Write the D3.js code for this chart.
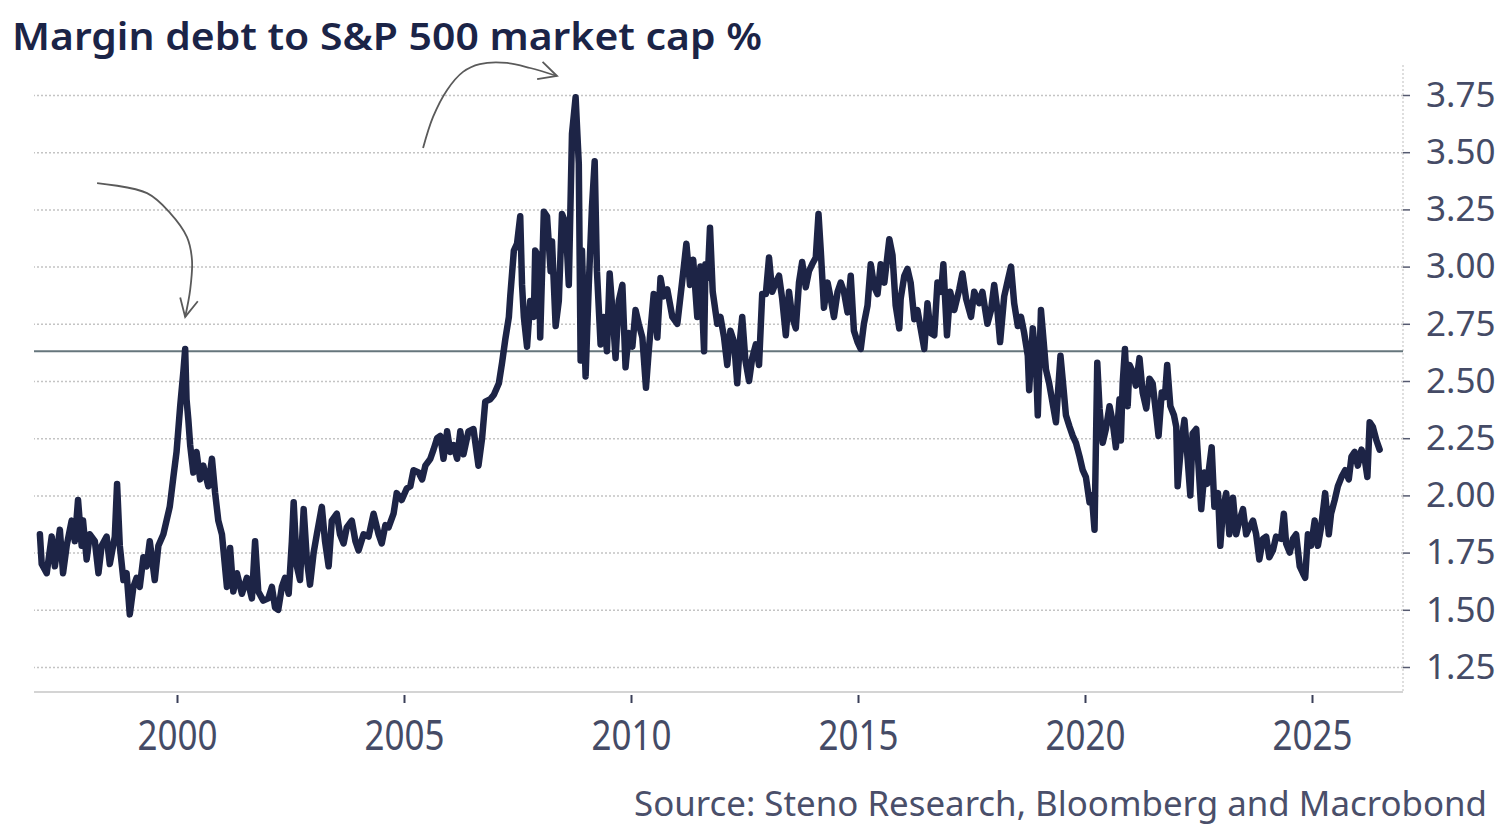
<!DOCTYPE html>
<html>
<head>
<meta charset="utf-8">
<title>Margin debt to S&amp;P 500 market cap %</title>
<script src="https://cdnjs.cloudflare.com/ajax/libs/d3/7.8.5/d3.min.js"></script>
<style>
	body { margin: 0; background: #fff; }
	svg { display: block; }
	text { font-family: "Noto Sans", "Open Sans", sans-serif; }
</style>
</head>
<body>
<svg id="vis" width="1504" height="840"></svg>
<script>
// values: [decimal year, margin debt / market cap %]
const seg1997 = [
	[1996.98,1.83],[1997.02,1.70],[1997.13,1.66],[1997.24,1.82],[1997.31,1.69],[1997.42,1.85],[1997.49,1.66],
	[1997.57,1.78],[1997.68,1.89],[1997.75,1.80],[1997.82,1.98],[1997.90,1.78],[1997.93,1.89],[1998.01,1.72],
	[1998.08,1.83],[1998.19,1.80],[1998.27,1.66],[1998.34,1.78],[1998.45,1.82],[1998.52,1.70],[1998.63,1.82],
	[1998.68,2.05],[1998.74,1.78],[1998.82,1.63],[1998.89,1.66],[1998.96,1.48],[1999.04,1.60],[1999.11,1.64],
	[1999.18,1.60],[1999.26,1.73],[1999.33,1.69],[1999.40,1.80],[1999.51,1.63],[1999.59,1.78],[1999.70,1.83],
	[1999.77,1.89],[1999.84,1.95],[1999.92,2.08],[1999.99,2.19],[2000.07,2.39],[2000.14,2.54],[2000.18,2.64],
	[2000.21,2.42],[2000.25,2.33],[2000.29,2.22],[2000.36,2.10],[2000.43,2.19],[2000.51,2.07],[2000.58,2.13],
	[2000.69,2.04],[2000.77,2.16],[2000.84,2.01],[2000.91,1.89],[2000.99,1.83],[2001.10,1.60],[2001.17,1.77],
	[2001.24,1.58],[2001.32,1.66],[2001.43,1.57],[2001.54,1.64],[2001.65,1.55]
];
const seg2002 = [
	[2001.72,1.80],[2001.79,1.58],[2001.90,1.54],[2002.01,1.55],[2002.09,1.60],[2002.16,1.51],[2002.23,1.50],
	[2002.31,1.60],[2002.38,1.64],[2002.46,1.57],[2002.53,1.80],[2002.57,1.97],[2002.64,1.69],[2002.71,1.63],
	[2002.79,1.94],[2002.86,1.72],[2002.93,1.61],[2003.01,1.75],[2003.08,1.83],[2003.19,1.95],[2003.26,1.80],
	[2003.34,1.69],[2003.41,1.89],[2003.52,1.92],[2003.59,1.83],[2003.67,1.79],[2003.74,1.86],[2003.85,1.89],
	[2003.93,1.80],[2004.00,1.76],[2004.11,1.83],[2004.22,1.82],[2004.33,1.92],[2004.44,1.83],[2004.51,1.79],
	[2004.59,1.87],[2004.66,1.86],[2004.77,1.92],[2004.84,2.01],[2004.95,1.98],[2005.06,2.03],[2005.14,2.04],
	[2005.21,2.11],[2005.32,2.10],[2005.40,2.07],[2005.47,2.13],[2005.58,2.16],[2005.65,2.20],[2005.73,2.25],
	[2005.80,2.26],[2005.87,2.16],[2005.95,2.28],[2006.02,2.19],[2006.09,2.22],[2006.17,2.16],[2006.24,2.28],
	[2006.31,2.18],[2006.42,2.28],[2006.53,2.29],[2006.64,2.13],[2006.72,2.25]
];
const seg2007 = [
	[2006.79,2.41],[2006.90,2.42],[2006.98,2.44],[2007.09,2.49],[2007.16,2.58],[2007.23,2.68],[2007.31,2.78],
	[2007.34,2.87],[2007.42,3.07],[2007.49,3.10],[2007.56,3.22],[2007.60,2.92],[2007.64,2.78],[2007.71,2.65],
	[2007.78,2.85],[2007.86,2.78],[2007.89,3.07],[2007.97,3.04],[2008.00,2.69],[2008.08,3.24],[2008.15,3.22],
	[2008.23,2.98],[2008.26,3.11],[2008.34,2.74],[2008.41,2.85],[2008.48,3.23],[2008.56,3.19],[2008.63,2.92],
	[2008.70,3.58],[2008.78,3.74],[2008.85,3.45],[2008.89,2.59],[2008.92,3.07],[2009.00,2.52],[2009.07,2.92],
	[2009.14,3.26],[2009.20,3.46],[2009.25,2.98],[2009.33,2.66],[2009.40,2.78],[2009.47,2.63],[2009.53,2.97],
	[2009.59,2.81],[2009.66,2.60],[2009.73,2.85],[2009.81,2.92],[2009.88,2.56],[2009.95,2.71],[2010.03,2.65],
	[2010.10,2.81],[2010.17,2.75],[2010.25,2.69],[2010.33,2.47],[2010.39,2.63],[2010.50,2.88],[2010.58,2.69],
	[2010.65,2.95],[2010.72,2.87],[2010.80,2.90],[2010.91,2.78],[2011.02,2.75],[2011.13,2.94],[2011.22,3.10],
	[2011.30,2.92],[2011.37,3.03],[2011.46,2.78],[2011.53,3.00],[2011.61,2.63]
];
const seg2012 = [
	[2011.64,3.01],[2011.69,2.95],[2011.74,3.17],[2011.80,2.89],[2011.90,2.75],[2011.97,2.78],[2012.05,2.69],
	[2012.12,2.57],[2012.19,2.72],[2012.27,2.67],[2012.34,2.49],[2012.41,2.70],[2012.45,2.78],[2012.52,2.59],
	[2012.60,2.50],[2012.67,2.60],[2012.75,2.66],[2012.82,2.57],[2012.89,2.88],[2012.97,2.88],[2013.04,3.04],
	[2013.11,2.89],[2013.19,2.93],[2013.26,2.96],[2013.33,2.86],[2013.41,2.70],[2013.48,2.89],[2013.55,2.78],
	[2013.63,2.73],[2013.70,2.93],[2013.77,3.02],[2013.85,2.91],[2013.92,2.98],[2013.99,3.01],[2014.07,3.04],
	[2014.13,3.23],[2014.18,3.07],[2014.25,2.82],[2014.33,2.93],[2014.40,2.86],[2014.47,2.78],[2014.55,2.89],
	[2014.62,2.93],[2014.69,2.89],[2014.77,2.80],[2014.84,2.96],[2014.91,2.72],[2014.99,2.67],[2015.06,2.64],
	[2015.13,2.75],[2015.21,2.83],[2015.28,3.01],[2015.36,2.91],[2015.43,2.88],[2015.50,3.01],[2015.58,2.93],
	[2015.69,3.12],[2015.76,3.05],[2015.83,2.83],[2015.91,2.73]
];
const seg2016 = [
	[2015.94,2.86],[2016.02,2.96],[2016.09,2.99],[2016.16,2.93],[2016.24,2.77],[2016.31,2.81],[2016.38,2.73],
	[2016.46,2.64],[2016.53,2.84],[2016.60,2.71],[2016.68,2.70],[2016.75,2.93],[2016.83,2.89],[2016.88,3.01],
	[2016.96,2.70],[2017.03,2.89],[2017.12,2.81],[2017.23,2.90],[2017.30,2.97],[2017.38,2.86],[2017.49,2.78],
	[2017.56,2.89],[2017.67,2.84],[2017.74,2.89],[2017.85,2.75],[2017.93,2.81],[2018.00,2.92],[2018.07,2.81],
	[2018.13,2.67],[2018.22,2.87],[2018.30,2.94],[2018.37,3.00],[2018.44,2.84],[2018.52,2.74],[2018.59,2.78],
	[2018.66,2.71],[2018.74,2.61],[2018.77,2.46],[2018.85,2.73],[2018.92,2.58],[2018.96,2.35],[2019.03,2.81],
	[2019.09,2.67],[2019.14,2.55],[2019.21,2.49],[2019.29,2.40],[2019.36,2.32],[2019.46,2.61],[2019.53,2.46],
	[2019.58,2.35],[2019.66,2.30],[2019.73,2.26],[2019.80,2.23],[2019.88,2.17],[2019.95,2.11],[2020.02,2.08],
	[2020.10,1.97],[2020.15,2.00],[2020.21,1.85],[2020.27,2.58],[2020.32,2.38],[2020.39,2.23],[2020.46,2.29],
	[2020.54,2.39],[2020.61,2.32],[2020.68,2.21],[2020.76,2.42]
];
const seg2021 = [
	[2020.79,2.24],[2020.83,2.49],[2020.88,2.64],[2020.94,2.39],[2020.98,2.57],[2021.05,2.54],[2021.12,2.48],
	[2021.20,2.60],[2021.27,2.45],[2021.35,2.38],[2021.42,2.51],[2021.49,2.49],[2021.57,2.35],[2021.62,2.26],
	[2021.69,2.45],[2021.76,2.43],[2021.81,2.57],[2021.88,2.39],[2021.96,2.35],[2022.01,2.30],[2022.04,2.04],
	[2022.12,2.23],[2022.19,2.33],[2022.26,2.16],[2022.32,2.00],[2022.37,2.27],[2022.45,2.29],[2022.50,2.13],
	[2022.56,1.94],[2022.63,2.10],[2022.69,2.05],[2022.74,2.13],[2022.79,2.21],[2022.85,1.95],[2022.93,2.01],
	[2022.98,1.78],[2023.04,1.94],[2023.11,2.01],[2023.18,1.83],[2023.26,1.99],[2023.33,1.83],[2023.40,1.89],
	[2023.48,1.94],[2023.55,1.83],[2023.62,1.86],[2023.70,1.89],[2023.77,1.83],[2023.84,1.72],[2023.92,1.81],
	[2023.99,1.82],[2024.06,1.73],[2024.14,1.76],[2024.21,1.82],[2024.32,1.81],[2024.38,1.92],[2024.43,1.79],
	[2024.51,1.75],[2024.58,1.81],[2024.65,1.83],[2024.73,1.69],[2024.80,1.66],[2024.85,1.64],[2024.91,1.83],
	[2024.98,1.78],[2025.06,1.89],[2025.13,1.78],[2025.20,1.86],[2025.29,2.01],[2025.37,1.83],[2025.42,1.92],
	[2025.50,1.98],[2025.57,2.04],[2025.65,2.08],[2025.73,2.11],[2025.81,2.07],[2025.87,2.17],[2025.94,2.19],
	[2026.01,2.13],[2026.09,2.20],[2026.16,2.16],[2026.22,2.08],[2026.27,2.32],[2026.34,2.30],[2026.42,2.24],
	[2026.49,2.20]
];

const xTicks = [2000, 2005, 2010, 2015, 2020, 2025];
const yTicks = [1.25, 1.50, 1.75, 2.00, 2.25, 2.50, 2.75, 3.00, 3.25, 3.50, 3.75];
const refLevel = 2.63; // level of the 2000 peak

// hand drawn arrows, in data units
const arrow2000 = [[1998.24,3.365],[1999.34,3.321],[1999.85,3.234],[2000.22,3.129],[2000.33,3.029],[2000.29,2.898],[2000.18,2.78]];
const arrow2008 = [[2005.42,3.518],[2005.64,3.654],[2005.95,3.772],[2006.30,3.851],[2006.67,3.885],[2007.27,3.890],[2007.78,3.868],[2008.37,3.833]];

const titleText = "Margin debt to S&P 500 market cap %";
const sourceText = "Source: Steno Research, Bloomberg and Macrobond";

let drawChart = function() {
	const svg = d3.select("svg#vis");

	const plot = { left: 34, right: 1403, top: 65, bottom: 692 };
	const ink = "#1d2446";
	const labelColor = "#454b66";

	const x = d3.scaleLinear().domain([2000, 2025]).range([177, 1312]);
	const y = d3.scaleLinear().domain([1.25, 3.75]).range([667, 95]);

	const g = {
		grid: svg.append("g").attr("id", "grid"),
		axes: svg.append("g").attr("id", "axes"),
		lines: svg.append("g").attr("id", "lines"),
		notes: svg.append("g").attr("id", "notes"),
		text: svg.append("g").attr("id", "text")
	};

	// dotted gridlines
	g.grid.attr("transform", translate(plot.right, 0))
		.call(d3.axisRight(y).tickValues(yTicks).tickSize(-(plot.right - plot.left)).tickFormat(""))
		.call(a => a.select(".domain").remove())
		.selectAll("line")
		.attr("stroke", "#c4c4c4")
		.attr("stroke-width", 1.5)
		.attr("stroke-dasharray", "2,2");

	// axis frame (bottom baseline + right edge)
	g.axes.append("line")
		.attr("x1", plot.left).attr("x2", plot.right)
		.attr("y1", plot.bottom).attr("y2", plot.bottom)
		.attr("stroke", "#d4d4d4").attr("stroke-width", 2);
	g.axes.append("line")
		.attr("x1", plot.right).attr("x2", plot.right)
		.attr("y1", plot.top).attr("y2", plot.bottom)
		.attr("stroke", "#d4d4d4").attr("stroke-width", 1.5)
		.attr("stroke-dasharray", "2,2");

	// right y axis
	const yAxis = g.axes.append("g")
		.attr("transform", translate(plot.right, 0))
		.call(d3.axisRight(y).tickValues(yTicks).tickSize(7).tickPadding(16).tickFormat(d3.format(".2f")));
	yAxis.select(".domain").remove();
	yAxis.selectAll("line").attr("stroke", "#555a70").attr("stroke-width", 1.5);
	yAxis.selectAll("text")
		.attr("fill", labelColor)
		.style("font-size", "35px");

	// bottom x axis
	const xAxis = g.axes.append("g")
		.attr("transform", translate(0, plot.bottom + 3))
		.call(d3.axisBottom(x).tickValues(xTicks).tickSize(8).tickPadding(18).tickFormat(d3.format("d")));
	xAxis.select(".domain").remove();
	xAxis.selectAll("line").attr("stroke", "#3a3f58").attr("stroke-width", 2);
	xAxis.selectAll("text")
		.attr("fill", labelColor)
		.style("font-size", "41px")
		.attr("textLength", 80)
		.attr("lengthAdjust", "spacingAndGlyphs");

	// reference line at the 2000 peak
	g.lines.append("line")
		.attr("x1", plot.left).attr("x2", plot.right)
		.attr("y1", y(refLevel)).attr("y2", y(refLevel))
		.attr("stroke", "#66767c")
		.attr("stroke-width", 2);

	// the series (thick stroke, the source is weekly and reads as a dense band)
	const series = [].concat(seg1997, seg2002, seg2007, seg2012, seg2016, seg2021);
	const line = d3.line()
		.x(d => x(d[0]))
		.y(d => y(d[1]));

	g.lines.append("path")
		.datum(series)
		.attr("d", line)
		.attr("fill", "none")
		.attr("stroke", ink)
		.attr("stroke-width", 6.5)
		.attr("stroke-linejoin", "round")
		.attr("stroke-linecap", "round");

	// arrows
	svg.append("defs").append("marker")
		.attr("id", "head")
		.attr("viewBox", "0 0 24 24")
		.attr("markerUnits", "userSpaceOnUse")
		.attr("markerWidth", 24)
		.attr("markerHeight", 24)
		.attr("refX", 21)
		.attr("refY", 12)
		.attr("orient", "auto")
		.append("path")
		.attr("d", "M3,3 L21,12 L3,21")
		.attr("fill", "none")
		.attr("stroke", "#5a5a5a")
		.attr("stroke-width", 1.8);

	const curve = d3.line()
		.x(d => x(d[0]))
		.y(d => y(d[1]))
		.curve(d3.curveCatmullRom);

	g.notes.selectAll("path.arrow")
		.data([arrow2000, arrow2008])
		.enter()
		.append("path")
		.attr("class", "arrow")
		.attr("d", curve)
		.attr("fill", "none")
		.attr("stroke", "#5a5a5a")
		.attr("stroke-width", 1.8)
		.attr("marker-end", "url(#head)");

	// title and source
	g.text.append("text")
		.attr("x", 12)
		.attr("y", 50)
		.attr("fill", "#1b2447")
		.style("font-size", "38px")
		.style("font-weight", 600)
		.attr("textLength", 750)
		.attr("lengthAdjust", "spacingAndGlyphs")
		.text(titleText);

	g.text.append("text")
		.attr("x", 1487)
		.attr("y", 816)
		.attr("text-anchor", "end")
		.attr("fill", "#4a4f6a")
		.style("font-size", "35px")
		.attr("textLength", 853)
		.attr("lengthAdjust", "spacingAndGlyphs")
		.text(sourceText);
};

//Helper functions
let translate = function(x, y) {
	return 'translate(' + x + ',' + y + ')';
};

drawChart();
</script>
</body>
</html>
